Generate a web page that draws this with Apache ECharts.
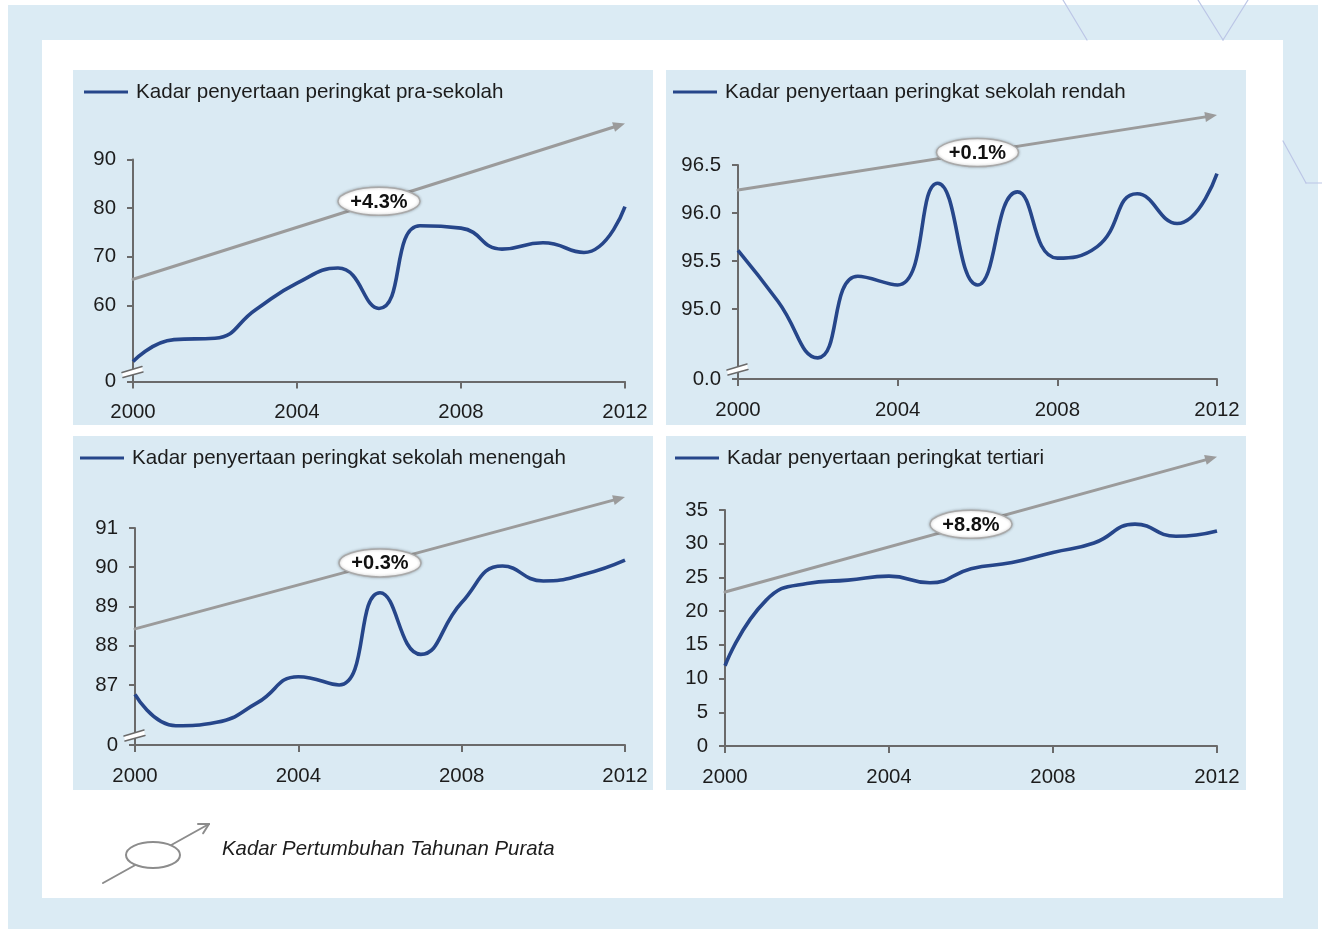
<!DOCTYPE html>
<html>
<head>
<meta charset="utf-8">
<title>Kadar penyertaan</title>
<script src="https://cdn.jsdelivr.net/npm/echarts@6/dist/echarts.min.js"></script>
<style>
html,body{margin:0;padding:0;background:#fff;}
#main{width:1322px;height:929px;}
</style>
</head>
<body>
<div id="main"></div>
<script>
// years on the x axis
var years = [2000, 2001, 2002, 2003, 2004, 2005, 2006, 2007, 2008, 2009, 2010, 2011, 2012];

// enrolment rate per level (%)
var praSekolah      = [48.5, 53.0, 53.3, 59.2, 64.6, 67.7, 59.4, 76.4, 75.9, 71.6, 72.9, 70.9, 80.3];
var sekolahRendah   = [95.61, 95.08, 94.49, 95.34, 95.25, 96.31, 95.25, 96.22, 95.53, 95.65, 96.2, 95.89, 96.41];
var sekolahMenengah = [86.76, 85.96, 86.05, 86.55, 87.21, 87.0, 89.35, 87.78, 89.1, 90.03, 89.65, 89.82, 90.18];
var tertiari        = [11.9, 21.6, 24.1, 24.6, 25.2, 24.2, 26.3, 27.2, 28.7, 30.1, 32.9, 31.1, 31.9];

// y tick values; first one is the broken-axis bottom (shown as 0)
var yTicksPra      = [44.4, 60, 70, 80, 90];
var yTicksRendah   = [94.27, 95.0, 95.5, 96.0, 96.5];
var yTicksMenengah = [85.47, 87, 88, 89, 90, 91];
var yTicksTertiari = [0, 5, 10, 15, 20, 25, 30, 35];

// grey growth arrows: value at 2000 and at 2012
var trendStart = [65.4, 96.24, 88.43, 22.84];
var trendEnd   = [97.4, 97.02, 91.79, 42.9];
var growthLabels = ['+4.3%', '+0.1%', '+0.3%', '+8.8%'];

var seriesNames = [
    'Kadar penyertaan peringkat pra-sekolah',
    'Kadar penyertaan peringkat sekolah rendah',
    'Kadar penyertaan peringkat sekolah menengah',
    'Kadar penyertaan peringkat tertiari'
];

var FONT = '"Liberation Sans", Arial, Helvetica, sans-serif';
var TEXT = '#1c1c1c';
var LINE_BLUE = '#26468a';
var AXIS_GREY = '#6a6a6a';
var ARROW_GREY = '#9b9b9b';
var PANEL_BG = '#daeaf3';

// layout of the four panels
var panels = [
    {data: praSekolah,      ticks: yTicksPra,      dec: 0, broken: true,
     grid: {left: 133, top: 159.5, width: 492, height: 222}, bg: [73, 70, 580, 355], legend: [84, 80]},
    {data: sekolahRendah,   ticks: yTicksRendah,   dec: 1, broken: true,
     grid: {left: 738, top: 165, width: 479, height: 214}, bg: [666, 70, 580, 355], legend: [673, 80]},
    {data: sekolahMenengah, ticks: yTicksMenengah, dec: 0, broken: true,
     grid: {left: 135, top: 528, width: 490, height: 217}, bg: [73, 436, 580, 354], legend: [80, 446]},
    {data: tertiari,        ticks: yTicksTertiari, dec: 0, broken: false,
     grid: {left: 725, top: 510, width: 492, height: 236}, bg: [666, 436, 580, 354], legend: [675, 446]}
];

var chart = echarts.init(document.getElementById('main'), null, {renderer: 'canvas'});

var grids = [], xAxes = [], yAxes = [], series = [], legends = [];

panels.forEach(function(p, i){
    var yMin = p.ticks[0], yMax = p.ticks[p.ticks.length - 1];

    grids.push({
        left: p.grid.left, top: p.grid.top, width: p.grid.width, height: p.grid.height,
        containLabel: false, outerBoundsMode: 'none'
    });

    xAxes.push({
        type: 'value', gridIndex: i, min: 2000, max: 2012, interval: 4,
        axisLine: {show: true, onZero: false, lineStyle: {color: AXIS_GREY, width: 2}},
        axisTick: {show: true, length: 7, lineStyle: {color: AXIS_GREY, width: 2}},
        axisLabel: {
            color: TEXT, fontSize: 20.4, fontFamily: FONT, margin: 21,
            showMinLabel: true, showMaxLabel: true,
            formatter: function(v){ return String(v); }
        },
        splitLine: {show: false}
    });

    yAxes.push({
        type: 'value', gridIndex: i, min: yMin, max: yMax,
        axisLine: {show: true, onZero: false, lineStyle: {color: AXIS_GREY, width: 2}},
        axisTick: {show: true, length: 6, customValues: p.ticks, lineStyle: {color: AXIS_GREY, width: 2}},
        axisLabel: {
            color: TEXT, fontSize: 20.4, fontFamily: FONT, margin: 17,
            customValues: p.ticks,
            formatter: function(v){
                if (p.broken && v === yMin) return p.dec ? '0.0' : '0';
                return v.toFixed(p.dec);
            }
        },
        splitLine: {show: false}
    });

    series.push({
        name: seriesNames[i], type: 'line',
        xAxisIndex: i, yAxisIndex: i,
        data: years.map(function(y, k){ return [y, p.data[k]]; }),
        smooth: 0.5, symbol: 'none', z: 4,
        lineStyle: {color: LINE_BLUE, width: 3.6},
        itemStyle: {color: LINE_BLUE}
    });

    legends.push({
        data: [seriesNames[i]], left: p.legend[0], top: p.legend[1], padding: 0,
        icon: 'rect', itemWidth: 44, itemHeight: 3, selectedMode: false,
        textStyle: {fontSize: 20.6, color: TEXT, fontFamily: FONT, lineHeight: 24, padding: [0, 0, 0, 3]}
    });
});

chart.setOption({
    animation: false,
    backgroundColor: '#fff',
    grid: grids,
    xAxis: xAxes,
    yAxis: yAxes,
    legend: legends,
    series: series
});

// ---------- decoration (backgrounds, arrows, break marks) ----------
function line(x1, y1, x2, y2, color, w, z){
    return {type: 'line', z: z, silent: true,
        shape: {x1: x1, y1: y1, x2: x2, y2: y2},
        style: {stroke: color, lineWidth: w, lineCap: 'round'}};
}

var els = [];
// outer page background + white card
els.push({type: 'rect', z: -20, shape: {x: 8, y: 5, width: 1310, height: 924}, style: {fill: '#dbebf4'}});
els.push({type: 'rect', z: -19, shape: {x: 42, y: 40, width: 1241, height: 858}, style: {fill: '#fff'}});
// thin lines in the corner
var deco = '#bcc6e6';
els.push(line(1063, 0, 1087, 40, deco, 1.2, -18));
els.push(line(1198, 0, 1223, 40, deco, 1.2, -18));
els.push(line(1223, 40, 1248, 0, deco, 1.2, -18));
els.push(line(1283, 141, 1306, 183, deco, 1.2, -18));
els.push(line(1306, 183, 1322, 183, deco, 1.2, -18));

panels.forEach(function(p, i){
    els.push({type: 'rect', z: -10, shape: {x: p.bg[0], y: p.bg[1], width: p.bg[2], height: p.bg[3]},
        style: {fill: PANEL_BG}});

    // growth arrow
    var a = chart.convertToPixel({gridIndex: i}, [2000, trendStart[i]]);
    var b = chart.convertToPixel({gridIndex: i}, [2012, trendEnd[i]]);
    var dx = b[0] - a[0], dy = b[1] - a[1], len = Math.sqrt(dx * dx + dy * dy);
    var ux = dx / len, uy = dy / len, hl = 12, hw = 5;
    var bx = b[0] - ux * hl, by = b[1] - uy * hl;
    els.push(line(a[0], a[1], bx + ux * 2, by + uy * 2, ARROW_GREY, 3, 2));
    els.push({type: 'polygon', z: 2, silent: true,
        shape: {points: [[b[0], b[1]], [bx - uy * hw, by + ux * hw], [bx + uy * hw, by - ux * hw]]},
        style: {fill: ARROW_GREY}});

    // label bubble at 2006
    var m = chart.convertToPixel({gridIndex: i}, [2006, (trendStart[i] + trendEnd[i]) / 2]);
    els.push({type: 'ellipse', z: 8, silent: true,
        shape: {cx: m[0], cy: m[1], rx: 41, ry: 14},
        style: {fill: '#fff', stroke: '#a9a9a9', lineWidth: 1.5, shadowBlur: 3, shadowColor: 'rgba(0,0,0,0.25)'}});
    els.push({type: 'text', z: 9, silent: true, x: m[0], y: m[1] + 1,
        style: {text: growthLabels[i], font: 'bold 20px ' + FONT, fill: '#111',
            align: 'center', verticalAlign: 'middle', textAlign: 'center', textVerticalAlign: 'middle'}});

    // break mark on the y axis
    if (p.broken){
        var o = chart.convertToPixel({gridIndex: i}, [2000, p.ticks[0]]);
        var cx = o[0], cy = o[1] - 10;
        els.push({type: 'polygon', z: 6, silent: true,
            shape: {points: [[cx - 11, cy + 1], [cx + 9, cy - 5], [cx + 10, cy + 0.5], [cx - 10, cy + 6]]},
            style: {fill: '#fff'}});
        els.push(line(cx - 11, cy + 1, cx + 9, cy - 5, AXIS_GREY, 1.5, 7));
        els.push(line(cx - 10, cy + 6, cx + 10, cy + 0.5, AXIS_GREY, 1.5, 7));
    }
});

// key for the grey arrow
var kx1 = 103, ky1 = 883, kx2 = 209, ky2 = 824;
els.push(line(kx1, ky1, kx2, ky2, '#8c8c8c', 2, 2));
els.push({type: 'ellipse', z: 3, silent: true, shape: {cx: 153, cy: 855, rx: 27, ry: 13},
    style: {fill: '#fff', stroke: '#8c8c8c', lineWidth: 2}});
var kl = Math.sqrt((kx2 - kx1) * (kx2 - kx1) + (ky2 - ky1) * (ky2 - ky1));
var kux = (kx1 - kx2) / kl, kuy = (ky1 - ky2) / kl;
[0.5, -0.5].forEach(function(ang){
    var c = Math.cos(ang), s = Math.sin(ang);
    els.push(line(kx2, ky2, kx2 + (kux * c - kuy * s) * 11, ky2 + (kux * s + kuy * c) * 11, '#8c8c8c', 2, 3));
});
els.push({type: 'text', z: 3, silent: true, x: 222, y: 849,
    style: {text: 'Kadar Pertumbuhan Tahunan Purata', font: 'italic 20.4px ' + FONT, fill: TEXT,
        align: 'left', verticalAlign: 'middle', textAlign: 'left', textVerticalAlign: 'middle'}});

chart.setOption({graphic: {elements: els}});
</script>
</body>
</html>
